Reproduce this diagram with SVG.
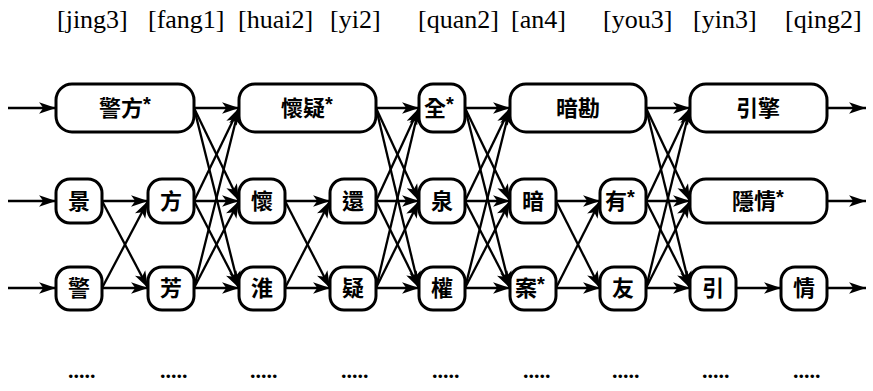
<svg xmlns="http://www.w3.org/2000/svg" width="873" height="391" viewBox="0 0 873 391">
<style>
.box{fill:#fff;stroke:#000;stroke-width:3}
.cn{font-family:"Noto Sans CJK TC","Noto Sans CJK SC",sans-serif;font-size:22px;font-weight:700;text-anchor:middle;fill:#000}
.st{font-family:"Liberation Sans",sans-serif;font-size:20px;font-weight:700}
.py{font-family:"Liberation Serif",serif;font-size:26px;fill:#000}
.dots{font-family:"Liberation Serif",serif;font-size:22px;font-weight:700;fill:#000}
.e line{stroke:#000;stroke-width:2.3;marker-end:url(#ah)}
</style>
<defs>
<marker id="ah" markerUnits="userSpaceOnUse" markerWidth="18" markerHeight="12" refX="16" refY="5.5" orient="auto" viewBox="0 0 17 11">
<path d="M0,0 L16,5.5 L0,11 L4,5.5 Z" fill="#000"/>
</marker>
</defs>
<rect width="873" height="391" fill="#fff"/>
<g id="pinyin">
<text class="py" x="57" y="28">[jing3]</text>
<text class="py" x="148" y="28">[fang1]</text>
<text class="py" x="238" y="28">[huai2]</text>
<text class="py" x="330" y="28">[yi2]</text>
<text class="py" x="418" y="28">[quan2]</text>
<text class="py" x="511" y="28">[an4]</text>
<text class="py" x="603" y="28">[you3]</text>
<text class="py" x="693" y="28">[yin3]</text>
<text class="py" x="785" y="28">[qing2]</text>
</g>
<g id="connectors" class="e">
<line x1="8" y1="108" x2="56" y2="108"/>
<line x1="8" y1="201" x2="56" y2="201"/>
<line x1="8" y1="288" x2="56" y2="288"/>
<line x1="102" y1="201" x2="148" y2="201"/>
<line x1="102" y1="201" x2="148" y2="288"/>
<line x1="102" y1="288" x2="148" y2="201"/>
<line x1="102" y1="288" x2="148" y2="288"/>
<line x1="194" y1="108" x2="239" y2="108"/>
<line x1="194" y1="108" x2="239" y2="201"/>
<line x1="194" y1="108" x2="239" y2="288"/>
<line x1="194" y1="201" x2="239" y2="108"/>
<line x1="194" y1="201" x2="239" y2="201"/>
<line x1="194" y1="201" x2="239" y2="288"/>
<line x1="194" y1="288" x2="239" y2="108"/>
<line x1="194" y1="288" x2="239" y2="201"/>
<line x1="194" y1="288" x2="239" y2="288"/>
<line x1="285" y1="201" x2="330" y2="201"/>
<line x1="285" y1="201" x2="330" y2="288"/>
<line x1="285" y1="288" x2="330" y2="201"/>
<line x1="285" y1="288" x2="330" y2="288"/>
<line x1="376" y1="108" x2="419" y2="108"/>
<line x1="376" y1="108" x2="419" y2="201"/>
<line x1="376" y1="108" x2="419" y2="288"/>
<line x1="376" y1="201" x2="419" y2="108"/>
<line x1="376" y1="201" x2="419" y2="201"/>
<line x1="376" y1="201" x2="419" y2="288"/>
<line x1="376" y1="288" x2="419" y2="108"/>
<line x1="376" y1="288" x2="419" y2="201"/>
<line x1="376" y1="288" x2="419" y2="288"/>
<line x1="465" y1="108" x2="510" y2="108"/>
<line x1="465" y1="108" x2="510" y2="201"/>
<line x1="465" y1="108" x2="510" y2="288"/>
<line x1="465" y1="201" x2="510" y2="108"/>
<line x1="465" y1="201" x2="510" y2="201"/>
<line x1="465" y1="201" x2="510" y2="288"/>
<line x1="465" y1="288" x2="510" y2="108"/>
<line x1="465" y1="288" x2="510" y2="201"/>
<line x1="465" y1="288" x2="510" y2="288"/>
<line x1="556" y1="201" x2="600" y2="201"/>
<line x1="556" y1="201" x2="600" y2="288"/>
<line x1="556" y1="288" x2="600" y2="201"/>
<line x1="556" y1="288" x2="600" y2="288"/>
<line x1="646" y1="108" x2="690" y2="108"/>
<line x1="646" y1="108" x2="690" y2="201"/>
<line x1="646" y1="108" x2="690" y2="288"/>
<line x1="646" y1="201" x2="690" y2="108"/>
<line x1="646" y1="201" x2="690" y2="201"/>
<line x1="646" y1="201" x2="690" y2="288"/>
<line x1="646" y1="288" x2="690" y2="108"/>
<line x1="646" y1="288" x2="690" y2="201"/>
<line x1="646" y1="288" x2="690" y2="288"/>
<line x1="736" y1="288" x2="781" y2="288"/>
<line x1="827" y1="108" x2="866" y2="108"/>
<line x1="827" y1="201" x2="866" y2="201"/>
<line x1="827" y1="288" x2="866" y2="288"/>
</g>
<g id="n-jingfang"><rect class="box" x="56" y="84" width="138" height="48" rx="16"/><text class="cn" x="125" y="116">警方<tspan class="st" dy="-5">*</tspan></text></g>
<g id="n-jing1"><rect class="box" x="56" y="179" width="46" height="44" rx="14"/><text class="cn" x="79" y="209">景</text></g>
<g id="n-jing2"><rect class="box" x="56" y="267" width="46" height="43" rx="14"/><text class="cn" x="79" y="296">警</text></g>
<g id="n-fang1"><rect class="box" x="148" y="179" width="46" height="44" rx="14"/><text class="cn" x="171" y="209">方</text></g>
<g id="n-fang2"><rect class="box" x="148" y="267" width="46" height="43" rx="14"/><text class="cn" x="171" y="296">芳</text></g>
<g id="n-huaiyi"><rect class="box" x="239" y="84" width="137" height="48" rx="16"/><text class="cn" x="307" y="116">懷疑<tspan class="st" dy="-5">*</tspan></text></g>
<g id="n-huai1"><rect class="box" x="239" y="179" width="46" height="44" rx="14"/><text class="cn" x="262" y="209">懷</text></g>
<g id="n-huai2"><rect class="box" x="239" y="267" width="46" height="43" rx="14"/><text class="cn" x="262" y="296">淮</text></g>
<g id="n-yi1"><rect class="box" x="330" y="179" width="46" height="44" rx="14"/><text class="cn" x="353" y="209">還</text></g>
<g id="n-yi2"><rect class="box" x="330" y="267" width="46" height="43" rx="14"/><text class="cn" x="353" y="296">疑</text></g>
<g id="n-quan1"><rect class="box" x="419" y="84" width="46" height="48" rx="14"/><text class="cn" x="439" y="116">全<tspan class="st" dy="-5">*</tspan></text></g>
<g id="n-quan2"><rect class="box" x="419" y="179" width="46" height="44" rx="14"/><text class="cn" x="442" y="209">泉</text></g>
<g id="n-quan3"><rect class="box" x="419" y="267" width="46" height="43" rx="14"/><text class="cn" x="442" y="296">權</text></g>
<g id="n-ankan"><rect class="box" x="510" y="84" width="136" height="48" rx="16"/><text class="cn" x="578" y="116">暗勘</text></g>
<g id="n-an1"><rect class="box" x="510" y="179" width="46" height="44" rx="14"/><text class="cn" x="533" y="209">暗</text></g>
<g id="n-an2"><rect class="box" x="510" y="267" width="46" height="43" rx="14"/><text class="cn" x="530" y="296">案<tspan class="st" dy="-5">*</tspan></text></g>
<g id="n-you1"><rect class="box" x="600" y="179" width="46" height="44" rx="14"/><text class="cn" x="620" y="209">有<tspan class="st" dy="-5">*</tspan></text></g>
<g id="n-you2"><rect class="box" x="600" y="267" width="46" height="43" rx="14"/><text class="cn" x="623" y="296">友</text></g>
<g id="n-yinqing"><rect class="box" x="690" y="84" width="137" height="48" rx="16"/><text class="cn" x="758" y="116">引擎</text></g>
<g id="n-yinqing2"><rect class="box" x="690" y="179" width="137" height="44" rx="16"/><text class="cn" x="758" y="209">隱情<tspan class="st" dy="-5">*</tspan></text></g>
<g id="n-yin"><rect class="box" x="690" y="267" width="46" height="43" rx="14"/><text class="cn" x="713" y="296">引</text></g>
<g id="n-qing"><rect class="box" x="781" y="267" width="46" height="43" rx="14"/><text class="cn" x="804" y="296">情</text></g>
<g id="dots">
<text class="dots" x="68" y="378">.....</text>
<text class="dots" x="160" y="378">.....</text>
<text class="dots" x="250" y="378">.....</text>
<text class="dots" x="341" y="378">.....</text>
<text class="dots" x="432" y="378">.....</text>
<text class="dots" x="523" y="378">.....</text>
<text class="dots" x="612" y="378">.....</text>
<text class="dots" x="702" y="378">.....</text>
<text class="dots" x="793" y="378">.....</text>
</g>
</svg>
